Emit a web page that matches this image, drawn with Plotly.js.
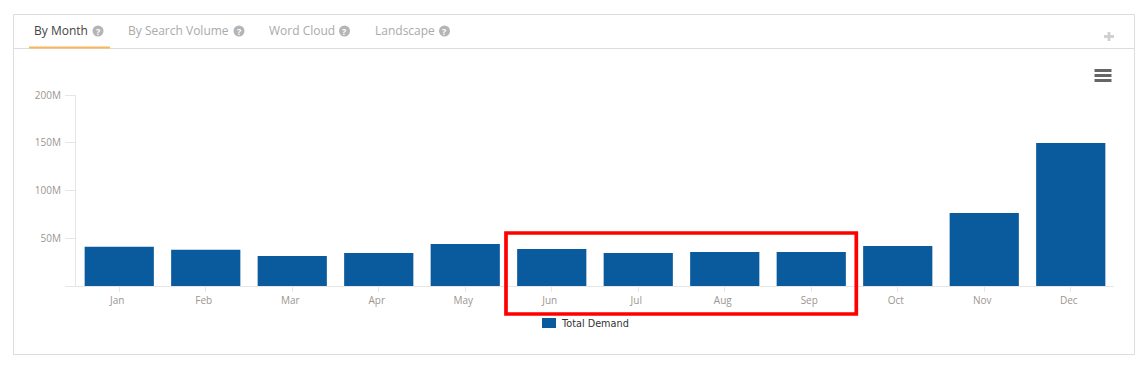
<!DOCTYPE html>
<html><head><meta charset="utf-8">
<script src="https://cdn.plot.ly/plotly-3.0.1.min.js"></script>
<style>html,body{margin:0;padding:0;background:#fff;overflow:hidden}#c{width:1148px;height:368px}</style>
</head><body><div id="c"></div>
<script>
const months=['Jan','Feb','Mar','Apr','May','Jun','Jul','Aug','Sep','Oct','Nov','Dec'];
const demand=[41,38,31.5,34.5,44,38.7,34.5,35.6,35.6,42,76.4,149.7];
const seriesName='Total Demand';
const yTicks=[0,50,100,150,200];
const yLabels=['','50M','100M','150M','200M'];
const tabs=['By Month','By Search Volume','Word Cloud','Landscape'];
const tabX=[33,127,267.5,374];
const helpX=[98,239,344.5,444.5];
const barColor='#0a5a9e';

const W=1148,H=368,L=76,R=34,T=95,B=82;
const px=x=>(x-L)/(W-L-R), py=y=>1-(y-T)/(H-T-B);
const box=(x0,y0,x1,y1,color,width,fill)=>({type:'rect',xref:'paper',yref:'paper',x0:px(x0),x1:px(x1),y0:py(y1),y1:py(y0),
  line:{color:color,width:width},fillcolor:fill||'rgba(0,0,0,0)',layer:'above'});
const line=(x0,y0,x1,y1,color,width)=>({type:'line',xref:'paper',yref:'paper',x0:px(x0),x1:px(x1),y0:py(y0),y1:py(y1),line:{color:color,width:width},layer:'above'});
const note=(x,y,text,size,color,anchor,fam)=>({xref:'paper',yref:'paper',x:px(x),y:py(y),text:text,showarrow:false,xanchor:anchor||'left',yanchor:'middle',
  font:{family:fam||'"Open Sans", sans-serif',size:size,color:color},borderpad:0});

const shapes=[
  box(13.5,14.5,1134.5,354.5,'#dddddd',1),
  line(14,48.5,1134,48.5,'#dddddd',1),
  line(29,47.5,110,47.5,'#f5b85c',2),
  line(1104,36.5,1114,36.5,'#cfcfcf',2.8),
  line(1109,32,1109,41,'#cfcfcf',2.8),
  line(1094.5,70.5,1111.5,70.5,'#666666',3),
  line(1094.5,75.5,1111.5,75.5,'#666666',3),
  line(1094.5,80.5,1111.5,80.5,'#666666',3),
  box(506,233,856.3,314,'#ff0000',3.7),
  line(66,286.5,76,286.5,'#e6e6e6',1),
  box(543,319,555,327,barColor,2,barColor)
];
const annotations=tabs.map((t,i)=>note(tabX[i],30.5,t,12,i===0?'#444444':'#aaaaaa'));
helpX.forEach(x=>{
  shapes.push({type:'circle',xref:'paper',yref:'paper',x0:px(x-5.5),x1:px(x+5.5),y0:py(36.5),y1:py(25.5),fillcolor:'#b5b5b5',line:{width:0},layer:'above'});
  annotations.push(note(x,31,'<b>?</b>',9,'#ffffff','center'));
});
annotations.push(note(559.5,323.5,seriesName,9.7,'#333333','left','"DejaVu Sans", sans-serif'));

Plotly.newPlot('c',[{type:'bar',name:seriesName,x:months,y:demand,marker:{color:barColor,line:{width:0}},
  hoverinfo:'x+y'}],{
  width:W,height:H,paper_bgcolor:'#fff',plot_bgcolor:'#fff',
  margin:{l:L,r:R,t:T,b:B,pad:0},bargap:0.2,
  font:{family:'"Open Sans", sans-serif'},
  xaxis:{type:'category',tickmode:'array',tickvals:months,ticktext:months,ticks:'outside',ticklen:5,tickcolor:'#e6e6e6',tickwidth:1,ticklabelshift:-2,
    showline:true,linecolor:'#e6e6e6',linewidth:1,showgrid:false,zeroline:false,
    tickfont:{family:'"Open Sans", sans-serif',size:10,color:'#9c9690'},range:[-0.5,11.5],fixedrange:true},
  yaxis:{range:[0,200],tickmode:'array',tickvals:yTicks,ticktext:yLabels,ticks:'outside',ticklen:10,tickcolor:'#e6e6e6',tickwidth:1,ticklabelstandoff:2,
    showline:true,linecolor:'#e6e6e6',linewidth:1,showgrid:false,zeroline:false,
    tickfont:{family:'"Open Sans", sans-serif',size:10,color:'#9c9690'},fixedrange:true},
  showlegend:false,
  shapes:shapes,annotations:annotations
},{displayModeBar:false,staticPlot:false});
</script></body></html>
